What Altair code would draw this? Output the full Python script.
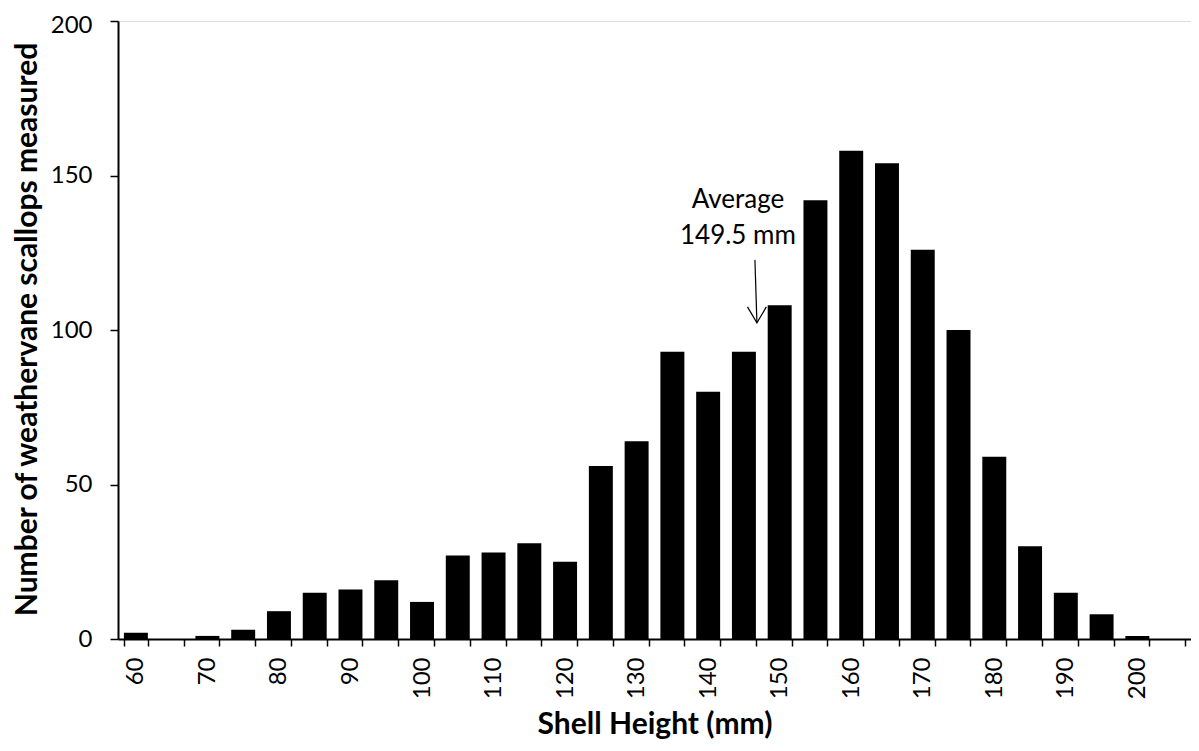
import altair as alt
import pandas as pd

# Shell height classes (mm) and number of scallops measured
heights = [60, 65, 70, 75, 80, 85, 90, 95, 100, 105, 110, 115, 120, 125, 130,
           135, 140, 145, 150, 155, 160, 165, 170, 175, 180, 185, 190, 195, 200, 205]
counts = [2, 0, 1, 3, 9, 15, 16, 19, 12, 27, 28, 31, 25, 56, 64,
          93, 80, 93, 108, 142, 158, 154, 126, 100, 59, 30, 15, 8, 1, 0]

y_ticks = [0, 50, 100, 150, 200]

# Annotation
ann_class = [145]
ann_text = ["Average", "149.5 mm"]
ann_text_y = [139.5]
arrow_top = [122.7]
arrow_tip = [102.3]

FONT = "Lato"

df = pd.DataFrame({"h": heights, "n": counts})

x_scale = alt.Scale(paddingInner=0.33, paddingOuter=0.165)
y_scale = alt.Scale(domain=[0, 200], nice=False)

bars = alt.Chart(df).mark_bar(color="black").encode(
    x=alt.X("h:O", scale=x_scale, sort=heights,
            axis=alt.Axis(
                title="Shell Height (mm)",
                labelExpr="datum.value % 10 == 0 ? datum.label : ''",
                labelAngle=270, labelPadding=11, tickBand="extent",
                tickSize=7, tickWidth=1.5, tickColor="black",
                domainColor="black", domainWidth=2,
                labelFont=FONT, labelFontSize=24, labelColor="black",
                titleFont=FONT, titleFontSize=30, titleFontWeight="bold",
                titleColor="black", titleBaseline="alphabetic", titleY=94,
                grid=False)),
    y=alt.Y("n:Q", scale=y_scale,
            axis=alt.Axis(
                title="Number of weathervane scallops measured",
                values=y_ticks, tickSize=8, tickWidth=1.5, tickColor="black",
                domainColor="black", domainWidth=2, labelPadding=18,
                labelOffset={"condition": {"test": "datum.value == 200", "value": 4}, "value": 0},
                labelFont=FONT, labelFontSize=24, labelColor="black",
                titleFont=FONT, titleFontSize=30, titleFontWeight="bold",
                titleColor="black", titleBaseline="alphabetic",
                titleX=-82, titleY=308, titleAngle=270,
                grid=False)),
)

ann_df = pd.DataFrame({"h": ann_class, "y": ann_text_y, "top": arrow_top, "tip": arrow_tip})

label = alt.Chart(ann_df).mark_text(
    font=FONT, fontSize=26, color="black", baseline="alphabetic",
    align="center", dx=-6, lineHeight=36
).encode(
    x=alt.X("h:O", sort=heights),
    y=alt.Y("y:Q", scale=y_scale),
    text=alt.value(ann_text),
)

shaft = alt.Chart(ann_df).mark_rule(
    color="black", strokeWidth=1.2, xOffset=11, x2Offset=13
).encode(
    x=alt.X("h:O", sort=heights),
    x2="h",
    y=alt.Y("top:Q", scale=y_scale),
    y2="tip:Q",
)

head = alt.Chart(ann_df).mark_point(
    shape="M-0.59,-1L0,0L0.59,-1", filled=False, size=1024,
    color="black", strokeWidth=1.2, opacity=1, xOffset=13
).encode(
    x=alt.X("h:O", sort=heights),
    y=alt.Y("tip:Q", scale=y_scale),
)

chart = alt.layer(bars, label, shaft, head).properties(
    width=1073, height=618,
    autosize=alt.AutoSizeParams(type="none"),
    padding={"left": 110, "top": 13, "right": 0, "bottom": 100},
).configure_view(stroke=None).configure(background="white")

chart.save("out.html", embed_options={"renderer": "svg", "actions": False})
